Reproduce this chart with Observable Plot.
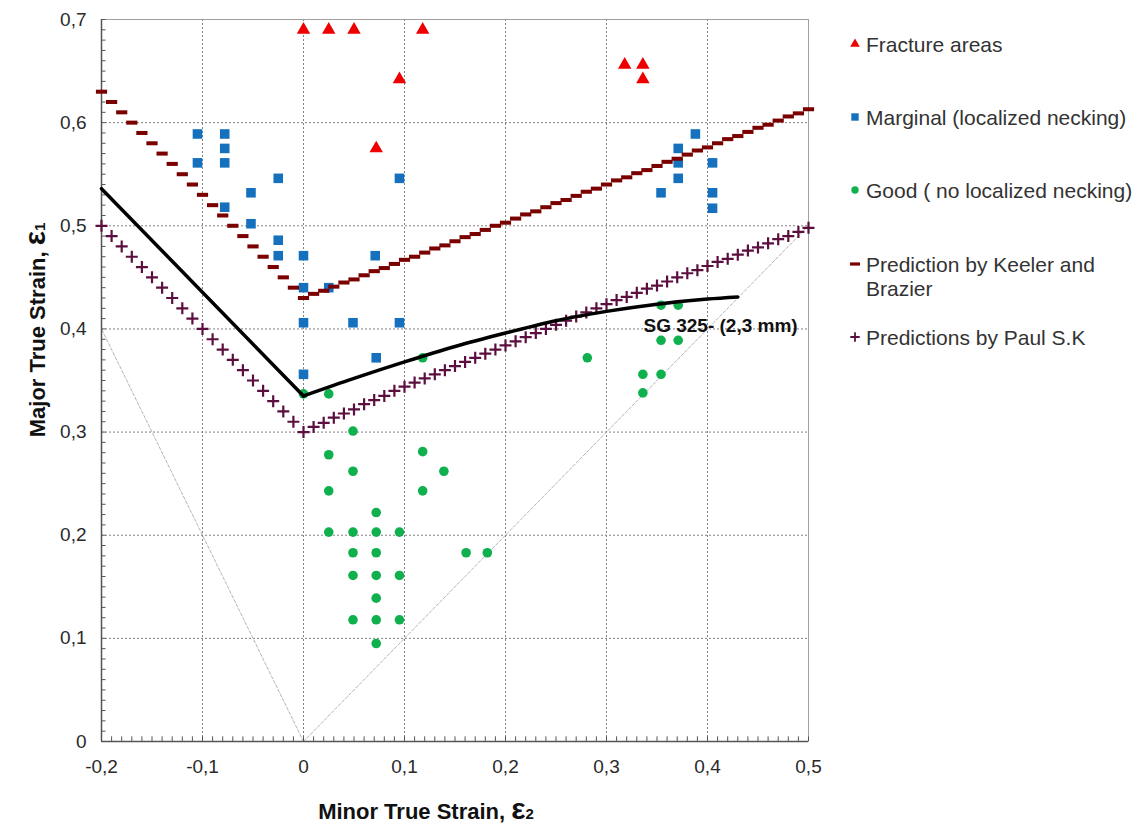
<!DOCTYPE html>
<html><head><meta charset="utf-8">
<script src="https://cdn.jsdelivr.net/npm/d3@7"></script>
<script src="https://cdn.jsdelivr.net/npm/@observablehq/plot@0.6"></script>
<style>body{margin:0;background:#fff;} #chart{width:1141px;height:824px;}</style>
</head><body><div id="chart"></div>
<script>
// ---- data (minor strain e2, major strain e1) ----
const fracture = [[0,0.69],[0.025,0.69],[0.05,0.69],[0.118,0.69],[0.095,0.642],[0.072,0.575],[0.318,0.656],[0.336,0.656],[0.336,0.642]];
const marginal = [[-0.105,0.589],[-0.078,0.589],[-0.078,0.575],[-0.105,0.561],[-0.078,0.561],[-0.025,0.546],[0.095,0.546],[-0.052,0.532],[-0.078,0.518],[-0.052,0.502],[-0.025,0.486],[-0.025,0.471],[0,0.471],[0.071,0.471],[0,0.44],[0.025,0.44],[0,0.406],[0.049,0.406],[0.095,0.406],[0,0.356],[0.072,0.372],[0.388,0.589],[0.371,0.575],[0.371,0.561],[0.405,0.561],[0.371,0.546],[0.354,0.532],[0.405,0.532],[0.405,0.517]];
const good = [[0,0.337],[0.025,0.337],[0.118,0.372],[0.049,0.301],[0.025,0.278],[0.118,0.281],[0.049,0.262],[0.139,0.262],[0.025,0.243],[0.118,0.243],[0.072,0.222],[0.025,0.203],[0.049,0.203],[0.072,0.203],[0.095,0.203],[0.049,0.183],[0.072,0.183],[0.161,0.183],[0.182,0.183],[0.049,0.161],[0.072,0.161],[0.095,0.161],[0.072,0.139],[0.049,0.118],[0.072,0.118],[0.095,0.118],[0.072,0.095],[0.354,0.423],[0.371,0.423],[0.354,0.389],[0.371,0.389],[0.281,0.372],[0.336,0.356],[0.354,0.356],[0.336,0.338]];
const predE2 = [-0.2,-0.19,-0.18,-0.17,-0.16,-0.15,-0.14,-0.13,-0.12,-0.11,-0.1,-0.09,-0.08,-0.07,-0.06,-0.05,-0.04,-0.03,-0.02,-0.01,0,0.01,0.02,0.03,0.04,0.05,0.06,0.07,0.08,0.09,0.1,0.11,0.12,0.13,0.14,0.15,0.16,0.17,0.18,0.19,0.2,0.21,0.22,0.23,0.24,0.25,0.26,0.27,0.28,0.29,0.3,0.31,0.32,0.33,0.34,0.35,0.36,0.37,0.38,0.39,0.4,0.41,0.42,0.43,0.44,0.45,0.46,0.47,0.48,0.49,0.5];
const keelerE1 = [0.63,0.62,0.61,0.6,0.59,0.58,0.57,0.56,0.55,0.54,0.53,0.52,0.51,0.5,0.49,0.48,0.47,0.46,0.45,0.44,0.43,0.434,0.437,0.441,0.445,0.448,0.452,0.456,0.459,0.463,0.467,0.47,0.474,0.478,0.481,0.485,0.489,0.492,0.496,0.5,0.503,0.507,0.511,0.514,0.518,0.522,0.525,0.529,0.533,0.536,0.54,0.544,0.547,0.551,0.554,0.558,0.562,0.565,0.569,0.573,0.576,0.58,0.584,0.587,0.591,0.595,0.598,0.602,0.606,0.609,0.613];
const paulE1 = [0.5,0.49,0.48,0.47,0.46,0.45,0.44,0.43,0.42,0.41,0.4,0.39,0.38,0.37,0.36,0.35,0.34,0.33,0.32,0.31,0.3,0.305,0.309,0.314,0.318,0.322,0.327,0.331,0.335,0.34,0.344,0.348,0.352,0.356,0.36,0.364,0.368,0.372,0.376,0.38,0.384,0.388,0.392,0.396,0.4,0.404,0.408,0.412,0.416,0.42,0.424,0.428,0.431,0.435,0.439,0.442,0.446,0.45,0.454,0.457,0.461,0.465,0.468,0.472,0.476,0.479,0.483,0.487,0.49,0.494,0.498];
const sgLeft = [[-0.2,0.536],[0,0.335]];
const sgRight = [[0,0.335],[0.05,0.352],[0.1,0.368],[0.15,0.383],[0.2,0.396],[0.25,0.408],[0.3,0.417],[0.35,0.424],[0.4,0.429],[0.43,0.431]];
const uniaxial = [[0,0],[-0.2,0.4]];
const biaxial = [[0,0],[0.5,0.5]];
const xTicks = [-0.2,-0.1,0,0.1,0.2,0.3,0.4,0.5];
const yTicks = [0,0.1,0.2,0.3,0.4,0.5,0.6,0.7];
const sgLabel = {text:"SG 325- (2,3 mm)", x:0.3366, y:0.4033};
const legendLabels = [["Fracture areas"],["Marginal (localized necking)"],["Good ( no localized necking)"],["Prediction by Keeler and","Brazier"],["Predictions by Paul S.K"]];

// ---- styling ----
const FONT = "'Liberation Sans', Arial, Helvetica, sans-serif";
const C = {red:"#ee0000", blue:"#1570be", green:"#10b04e", keeler:"#7a0000", paul:"#5c0f3e"};
const fmt = d => String(d).replace(".", ",");
const minorX = d3.range(-20, 51).map(i => i / 100);
const minorY = d3.range(0, 71).map(i => i / 100);
const keeler = predE2.map((e2, i) => ({e2, e1: keelerE1[i]}));
const paul = predE2.map((e2, i) => ({e2, e1: paulE1[i]}));

const dashSymbol = {draw(ctx, size){ const r = Math.sqrt(size/Math.PI); ctx.rect(-r, -r*0.36, 2*r, r*0.72); }};
const plusSymbol = {draw(ctx, size){ const r = Math.sqrt(size/Math.PI); ctx.moveTo(-r,0); ctx.lineTo(r,0); ctx.moveTo(0,-r); ctx.lineTo(0,r); }};

const X = d => d[0], Y = d => d[1];
const chart = Plot.plot({
  width: 1141, height: 824,
  marginLeft: 101, marginRight: 333, marginTop: 19, marginBottom: 83,
  style: {fontFamily: FONT, fontSize: "19px", color: "#2a2a2a", background: "#fff", overflow: "visible"},
  x: {domain: [-0.2, 0.5]},
  y: {domain: [0, 0.7]},
  marks: [
    Plot.gridX(xTicks, {stroke: "#808080", strokeOpacity: 1, strokeDasharray: "2,2"}),
    Plot.gridY(yTicks, {stroke: "#808080", strokeOpacity: 1, strokeDasharray: "2,2"}),
    Plot.line(uniaxial, {x: X, y: Y, stroke: "#b5b5b5", strokeWidth: 1, strokeDasharray: "3,2"}),
    Plot.line(biaxial, {x: X, y: Y, stroke: "#b5b5b5", strokeWidth: 1, strokeDasharray: "3,2"}),
    Plot.frame({stroke: "#a0a0a0"}),
    Plot.ruleX([-0.2], {stroke: "#555", strokeWidth: 1.5}),
    Plot.ruleY([0], {stroke: "#555", strokeWidth: 1.5}),
    Plot.ruleX(minorX, {y1: 0, y2: 0.0045, stroke: "#555"}),
    Plot.ruleY(minorY, {x1: -0.2, x2: -0.1955, stroke: "#555"}),
    Plot.dot(marginal, {x: X, y: Y, symbol: "square", r: 5.4, fill: C.blue, stroke: "none"}),
    Plot.dot(good, {x: X, y: Y, symbol: "circle", r: 4.8, fill: C.green, stroke: "none"}),
    Plot.dot(fracture, {x: X, y: Y, symbol: "triangle", r: 5, fill: C.red, stroke: "none"}),
    Plot.dot(keeler, {x: "e2", y: "e1", symbol: dashSymbol, r: 5.6, fill: C.keeler, stroke: "none"}),
    Plot.dot(paul, {x: "e2", y: "e1", symbol: plusSymbol, r: 6, fill: "none", stroke: C.paul, strokeWidth: 2.2}),
    Plot.line(sgLeft, {x: X, y: Y, stroke: "#000", strokeWidth: 3.5}),
    Plot.line(sgRight, {x: X, y: Y, stroke: "#000", strokeWidth: 3.5, curve: "monotone-x"}),
    Plot.text([sgLabel], {x: "x", y: "y", text: "text", textAnchor: "start", fontWeight: "bold", fontSize: 19, fill: "#111"}),
    Plot.axisX(xTicks, {tickFormat: fmt, tickSize: 0, tickPadding: 18, label: null, fontSize: 19}),
    Plot.axisY(yTicks, {tickFormat: fmt, tickSize: 0, tickPadding: 15, label: null, fontSize: 19})
  ]
});
document.getElementById("chart").appendChild(chart);

// ---- axis titles and legend ----
const svg = d3.select(chart);
svg.selectAll('g[aria-label*="tick label"], g[aria-label*="tick label"] text')
  .attr("font-size", 19).style("font-size", "19px").attr("fill", "#2a2a2a");
const yt = svg.append("text").attr("transform", "translate(45,330) rotate(-90)")
  .attr("text-anchor", "middle").attr("font-family", FONT).attr("font-weight", "bold").attr("fill", "#111").attr("font-size", 22);
yt.append("tspan").text("Major True Strain, ");
yt.append("tspan").attr("font-size", 30).text("ε");
yt.append("tspan").attr("font-size", 15).text("1");
const xt = svg.append("text").attr("x", 426).attr("y", 819)
  .attr("text-anchor", "middle").attr("font-family", FONT).attr("font-weight", "bold").attr("fill", "#111").attr("font-size", 22);
xt.append("tspan").text("Minor True Strain, ");
xt.append("tspan").attr("font-size", 30).text("ε");
xt.append("tspan").attr("font-size", 15).text("2");

const legendY = [44, 117, 190, 264, 337];
const lg = svg.append("g").attr("font-family", FONT).attr("font-size", 21).attr("fill", "#333").attr("text-anchor", "start");
legendLabels.forEach((lines, i) => {
  const y = legendY[i];
  const t = lg.append("text").attr("x", 866).attr("y", y).attr("text-anchor", "start");
  lines.forEach((s, j) => t.append("tspan").attr("x", 866).attr("dy", j === 0 ? "0.36em" : "1.15em").text(s));
  const m = lg.append("g").attr("transform", `translate(855,${y})`);
  if (i === 0) m.append("path").attr("d", d3.symbol(d3.symbolTriangle, 40)()).attr("fill", C.red);
  if (i === 1) m.append("rect").attr("x", -3.7).attr("y", -3.7).attr("width", 7.4).attr("height", 7.4).attr("fill", C.blue);
  if (i === 2) m.append("circle").attr("r", 3.7).attr("fill", C.green);
  if (i === 3) m.append("rect").attr("x", -5).attr("y", -1.6).attr("width", 10).attr("height", 3.2).attr("fill", C.keeler);
  if (i === 4) m.append("path").attr("d", "M-4.7,0H4.7M0,-4.7V4.7").attr("stroke", C.paul).attr("stroke-width", 1.8);
});
</script>
</body></html>
